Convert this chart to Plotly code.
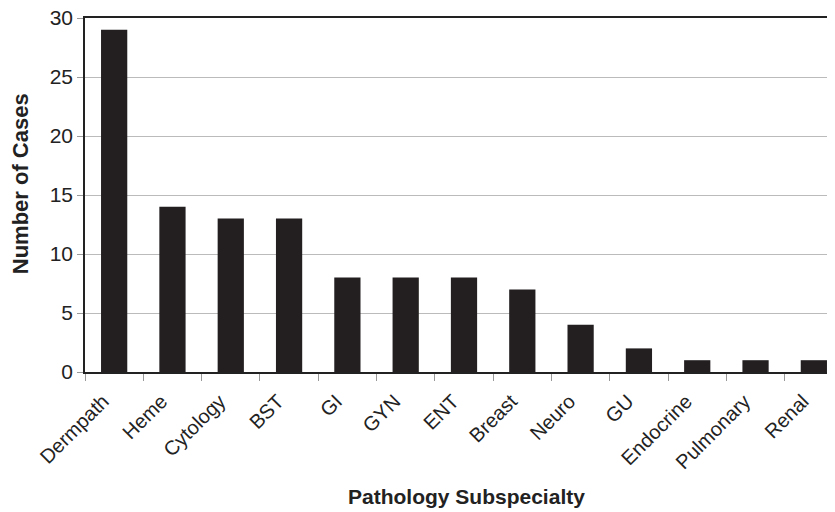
import plotly.graph_objects as go

categories = ["Dermpath", "Heme", "Cytology", "BST", "GI", "GYN", "ENT", "Breast",
              "Neuro", "GU", "Endocrine", "Pulmonary", "Renal"]
cases = [29, 14, 13, 13, 8, 8, 8, 7, 4, 2, 1, 1, 1]
y_ticks = [0, 5, 10, 15, 20, 25, 30]

fig = go.Figure(go.Bar(
    x=categories, y=cases, width=0.45,
    marker=dict(color="#231f20", line=dict(width=0)),
))

font_family = "Liberation Sans, Arial, sans-serif"
# the page body adds an 8px offset, so margins are compensated
fig.update_layout(
    width=835, height=512,
    margin=dict(l=77, r=0, t=10, b=148),
    paper_bgcolor="white", plot_bgcolor="white",
    font=dict(family=font_family, color="#222", size=20),
    showlegend=False,
)
fig.update_xaxes(
    type="category", range=[-0.5, 12.5], automargin=False,
    showline=True, linecolor="#222", linewidth=1.5, mirror=True,
    ticks="outside", tickson="boundaries", ticklen=7, tickcolor="#999",
    tickangle=-45, tickfont=dict(size=20, color="#222"),
    ticklabelstandoff=8, ticklabelshift=-11,
    showgrid=False,
)
fig.update_yaxes(
    range=[0, 30], tickvals=y_ticks, automargin=False,
    showline=True, linecolor="#222", linewidth=1.5,
    ticks="outside", ticklen=6, tickcolor="#999",
    tickfont=dict(size=21, color="#222"), ticklabeloverflow="allow",
    showgrid=True, gridcolor="#bbb", gridwidth=1,
    zeroline=False,
)
fig.add_annotation(
    text="<b>Pathology Subspecialty</b>", xref="paper", yref="paper",
    x=0.503, y=-0.352, xanchor="center", yanchor="middle", showarrow=False,
    font=dict(size=21, color="#222"),
)
fig.add_annotation(
    text="<b>Number of Cases</b>", xref="paper", yref="paper",
    x=-0.085, y=0.532, xanchor="center", yanchor="middle", showarrow=False,
    textangle=-90, font=dict(size=22, color="#222"),
)
fig.write_html("out.html")
